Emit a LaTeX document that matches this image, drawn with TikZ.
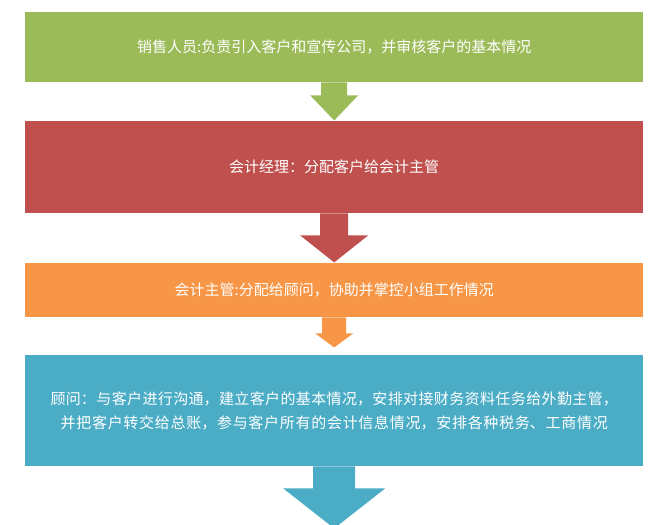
\documentclass[tikz,border=0pt]{standalone}
\usepackage{fontspec}
\newfontfamily\cjk{Noto Sans CJK SC}
\XeTeXlinebreaklocale "zh"
\XeTeXlinebreakskip = 0pt plus 1pt
\usetikzlibrary{calc}
\definecolor{sgreen}{HTML}{9BBB59}
\definecolor{sred}{HTML}{C0504D}
\definecolor{sorange}{HTML}{F79646}
\definecolor{sblue}{HTML}{4BACC6}
% block arrow below a node: node, shaft half width, shaft length, head half width, head length
\newcommand{\downarrowblock}[6]{
  \fill[#6] ($ (#1.south) + (-#2,0) $) -- ($ (#1.south) + (-#2,#3) $) -- ($ (#1.south) + (-#4,#3) $)
    -- ($ (#1.south) + (0,#3+#5) $)
    -- ($ (#1.south) + (#4,#3) $) -- ($ (#1.south) + (#2,#3) $) -- ($ (#1.south) + (#2,0) $) -- cycle;
}
\begin{document}
\begin{tikzpicture}[x=1pt,y=-1pt,
                    stage/.style={minimum width=618pt,inner sep=0pt,text=white,font=\cjk\fontsize{15}{24}\selectfont,align=center,anchor=north west},
                   ]
  \useasboundingbox (0,0) rectangle (654,525);
  \node[stage,fill=sgreen,minimum height=70pt] (sales) at (25,12) {销售人员:负责引入客户和宣传公司，并审核客户的基本情况};
  \node[stage,fill=sred,minimum height=92pt] (manager) at (25,121) {会计经理：分配客户给会计主管};
  \node[stage,fill=sorange,minimum height=54pt] (supervisor) at (25,263) {会计主管:分配给顾问，协助并掌控小组工作情况};
  \node[stage,fill=sblue,minimum height=111pt,text width=590pt,inner xsep=14pt] (advisor) at (25,355) {顾问：与客户进行沟通，建立客户的基本情况，安排对接财务资料任务给外勤主管，并把客户转交给总账，参与客户所有的会计信息情况，安排各种税务、工商情况};

  \downarrowblock{sales}{13}{13}{24}{25}{sgreen}
  \downarrowblock{manager}{14}{22}{34}{27}{sred}
  \downarrowblock{supervisor}{12}{16}{19}{14}{sorange}
  \downarrowblock{advisor}{21}{22}{51}{40}{sblue}
\end{tikzpicture}
\end{document}
